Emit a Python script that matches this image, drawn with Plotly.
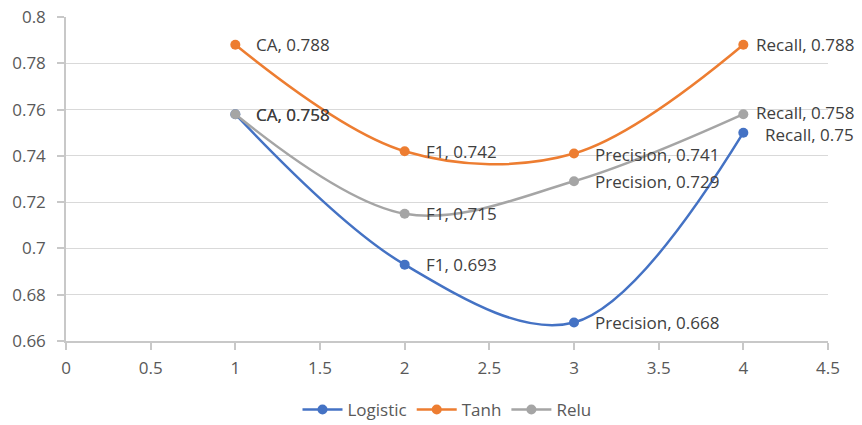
import plotly.graph_objects as go

x_vals = [1, 2, 3, 4]
metric_labels = ["CA", "F1", "Precision", "Recall"]
logistic = [0.758, 0.693, 0.668, 0.75]
tanh = [0.788, 0.742, 0.741, 0.788]
relu = [0.758, 0.715, 0.729, 0.758]

series = [("Logistic", logistic, "#4472C4"),
          ("Tanh", tanh, "#ED7D31"),
          ("Relu", relu, "#A5A5A5")]

FONT = "Open Sans"
fig = go.Figure()
for name, vals, color in series:
    fig.add_trace(go.Scatter(
        x=x_vals, y=vals, name=name, mode="lines+markers",
        line=dict(color=color, width=2.5, shape="spline", smoothing=1),
        marker=dict(color=color, size=10),
    ))
    for xv, m, v in zip(x_vals, metric_labels, vals):
        shift = 19
        yshift = 0
        if m == "Recall":
            if name == "Logistic":
                shift, yshift = 20, -2
            elif name == "Relu":
                shift, yshift = 11, 2
            else:
                shift = 11
        if name == "Tanh" and m == "Precision":
            yshift = -1
        fig.add_annotation(x=xv, y=v, text=f"{m}, {v:g}", showarrow=False,
                           xanchor="left", yanchor="middle", xshift=shift, yshift=yshift,
                           font=dict(family=FONT, size=17, color="#404040"))

fig.update_layout(
    width=862, height=425,
    margin=dict(l=66, r=34, t=17, b=84, autoexpand=False),
    paper_bgcolor="white", plot_bgcolor="white",
    font=dict(family=FONT, size=17, color="#595959"),
    showlegend=True,
    legend=dict(orientation="h", x=0.5, xanchor="center", y=-0.157, yanchor="top",
                font=dict(family=FONT, size=17, color="#595959"), itemwidth=40,
                tracegroupgap=0),
    xaxis=dict(range=[0, 4.5], dtick=0.5, tick0=0, showgrid=False,
               showline=True, linecolor="#C8C8C8", linewidth=1.5,
               ticks="outside", ticklen=7, tickcolor="#C8C8C8", tickwidth=1.5,
               zeroline=False, ticklabelstandoff=4),
    yaxis=dict(range=[0.66, 0.8], dtick=0.02, tick0=0.66, showgrid=True,
               gridcolor="#D9D9D9", gridwidth=1.3,
               showline=True, linecolor="#C8C8C8", linewidth=1.5,
               ticks="outside", ticklen=7, tickcolor="#C8C8C8", tickwidth=1.5,
               zeroline=False, tickformat="~g", ticklabelstandoff=8),
)

fig.write_html("out.html", config={"displayModeBar": False},
               post_script="document.body.style.margin='0';")
